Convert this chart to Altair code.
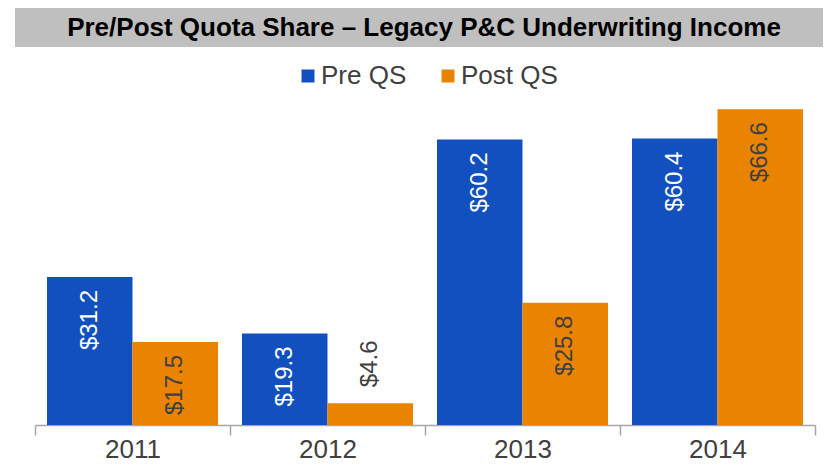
import altair as alt
import pandas as pd

years = ["2011", "2012", "2013", "2014"]
series = ["Pre QS", "Post QS"]
pre_qs = [31.2, 19.3, 60.2, 60.4]
post_qs = [17.5, 4.6, 25.8, 66.6]
colors = ["#1150be", "#ea8300"]
title_text = "Pre/Post Quota Share – Legacy P&C Underwriting Income"

rows = []
for i, y in enumerate(years):
    rows.append({"year": y, "series": series[0], "value": pre_qs[i]})
    rows.append({"year": y, "series": series[1], "value": post_qs[i]})
df = pd.DataFrame(rows)

FONT = "Liberation Sans"

x_enc = alt.X("year:N", sort=years, scale=alt.Scale(paddingInner=0, paddingOuter=0),
              axis=alt.Axis(title=None, labelAngle=0, tickBand="extent"))
xo_enc = alt.XOffset("series:N", sort=series, scale=alt.Scale(paddingOuter=0.14, paddingInner=0))
y_enc = alt.Y("value:Q", scale=alt.Scale(domain=[0, 70]), axis=None)

base = alt.Chart(df).encode(x=x_enc, xOffset=xo_enc, y=y_enc)

bars = base.mark_bar(size=85.5).encode(
    color=alt.Color("series:N", sort=series,
                    scale=alt.Scale(domain=series, range=colors),
                    legend=alt.Legend(title=None, orient="none", direction="horizontal",
                                      legendX=260, legendY=-30, symbolType="square",
                                      symbolSize=169, symbolStrokeWidth=0, symbolOpacity=1,
                                      labelFontSize=26, labelFont=FONT, labelColor="#404040",
                                      labelOffset=0, columnPadding=28, padding=0))
)

lab = base.transform_calculate(
    label="'$' + format(datum.value, '.1f')"
)

inside = lab.transform_filter("datum.value >= 10").mark_text(
    angle=270, align="right", baseline="middle", dx=-13, fontSize=24, font=FONT
).encode(
    text="label:N",
    color=alt.Color("series:N", scale=alt.Scale(domain=series, range=["#ffffff", "#404040"]), legend=None),
)

outside = lab.transform_filter("datum.value < 10").mark_text(
    angle=270, align="left", baseline="middle", dx=16, fontSize=24, font=FONT, color="#404040"
).encode(text="label:N")

one = alt.Data(values=[{}])
title_bar = alt.Chart(one).mark_rect(color="#bfbfbf").encode(
    x=alt.value(-20), x2=alt.value(788), y=alt.value(-85), y2=alt.value(-46)
)
title_lbl = alt.Chart(one).mark_text(
    text=title_text, font=FONT, fontSize=26, fontWeight="bold", color="#000000",
    align="center", baseline="middle"
).encode(x=alt.value(389), y=alt.value(-65))

chart = alt.layer(title_bar, title_lbl, bars, inside, outside).resolve_scale(color="independent").properties(
    width=780, height=332,
    autosize=alt.AutoSizeParams(type="none"),
    padding={"left": 27, "top": 85, "right": 15, "bottom": 37},
).configure_view(stroke=None).configure_axis(
    domainColor="#a6a6a6", domainWidth=1.5, tickColor="#a6a6a6", tickWidth=1.5, tickSize=10,
    labelFontSize=26, labelFont=FONT, labelColor="#404040", labelPadding=1, grid=False
)

chart.save("out.html", embed_options={"renderer": "svg", "actions": False})
